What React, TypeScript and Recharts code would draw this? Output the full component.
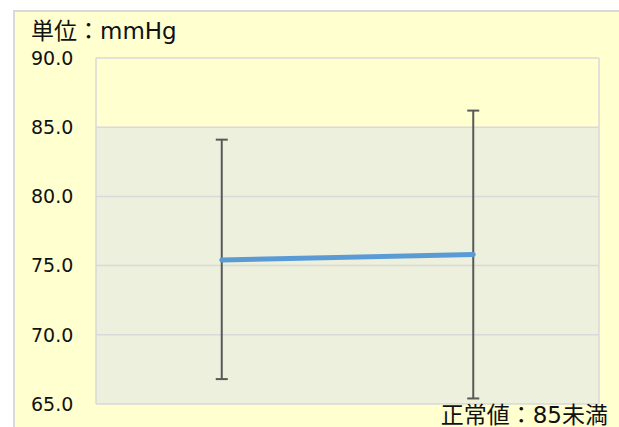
import React from 'react';
import { LineChart, Line, XAxis, YAxis, CartesianGrid, ErrorBar } from 'recharts';

// two measurements, no category labels shown on the axis
const xPositions = [0.5, 1.5];
const means = [75.4, 75.8];
const lows = [66.8, 65.4];
const highs = [84.1, 86.2];
const yTicks = [65, 70, 75, 80, 85, 90];
const xGridTicks = [0, 1, 2];

const data = means.map((m, i) => ({
  x: xPositions[i],
  mean: m,
  err: [m - lows[i], highs[i] - m],
}));

const FONT = '"DejaVu Sans", "Noto Sans CJK JP", sans-serif';

const YTick = ({ y, payload }: any) => (
  <text x={18} y={y} dy="0.36em" textAnchor="start" fontSize={19} fill="#111" fontFamily={FONT}>
    {Number(payload.value).toFixed(1)}
  </text>
);

const App: React.FC = () => {
  return (
    <div
      style={{
        position: 'absolute',
        left: 13,
        top: 10,
        width: 604,
        height: 415,
        background: '#FFFFD0',
        borderTop: '2px solid #d9d9d9',
        borderLeft: '2px solid #d9d9d9',
        fontFamily: FONT,
        overflow: 'hidden',
      }}
    >
      <div
        style={{
          position: 'absolute',
          left: 16,
          top: 8,
          fontSize: 23,
          color: '#111',
          lineHeight: 1,
          whiteSpace: 'nowrap',
        }}
      >
        単位：mmHg
      </div>
      <div style={{ position: 'absolute', left: -2, top: -2 }}>
        <LineChart width={606} height={417} data={data} margin={{ top: 48, right: 20, bottom: 23, left: 0 }}>
          <CartesianGrid
            stroke="#d9d9d9"
            strokeWidth={1.5}
            horizontalFill={['#FFFFD0', '#ECF0DD', '#ECF0DD', '#ECF0DD', '#ECF0DD', '#ECF0DD']}
            fillOpacity={1}
          />
          <XAxis
            type="number"
            dataKey="x"
            domain={[0, 2]}
            ticks={xGridTicks}
            tick={false}
            axisLine={false}
            tickLine={false}
            height={0}
          />
          <YAxis
            domain={[65, 90]}
            ticks={yTicks}
            width={83}
            axisLine={false}
            tickLine={false}
            tick={<YTick />}
            interval={0}
          />
          <Line
            dataKey="mean"
            stroke="#5B9BD5"
            strokeWidth={5}
            strokeLinecap="round"
            dot={false}
            isAnimationActive={false}
          >
            <ErrorBar dataKey="err" width={6} stroke="#595959" strokeWidth={2} direction="y" />
          </Line>
        </LineChart>
      </div>
      <div
        style={{
          position: 'absolute',
          right: 11,
          top: 392,
          fontSize: 23,
          color: '#111',
          lineHeight: 1,
          whiteSpace: 'nowrap',
        }}
      >
        正常値：85未満
      </div>
    </div>
  );
};

export default App;
